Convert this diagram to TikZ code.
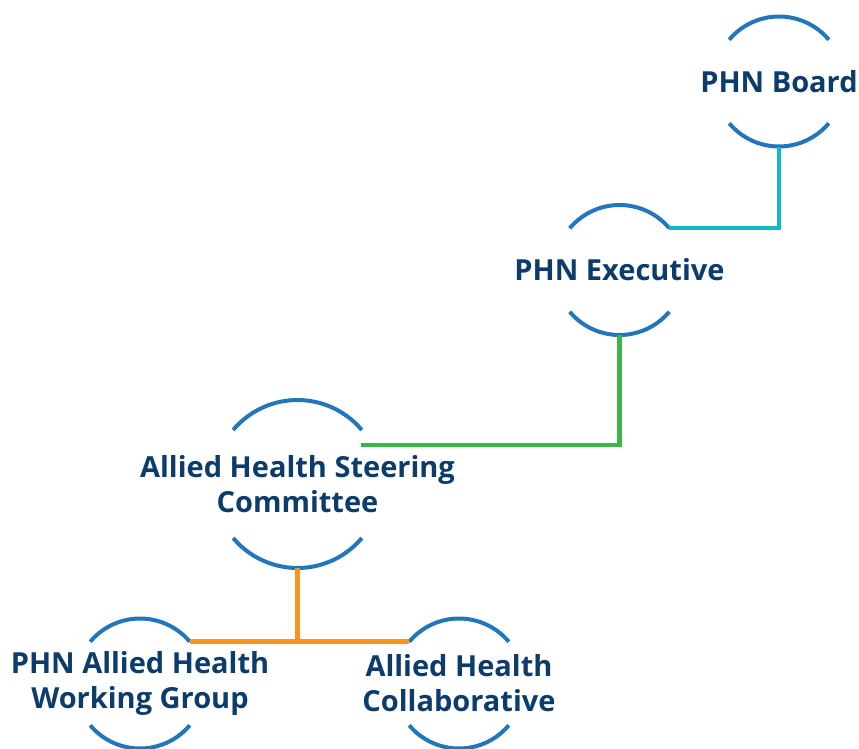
\documentclass[tikz,border=0pt]{standalone}
\usepackage{fontspec}
\setmainfont{Open Sans}
\definecolor{ringblue}{HTML}{2176BC}
\definecolor{navy}{HTML}{0B3C6B}
\definecolor{tealline}{HTML}{13B8C8}
\definecolor{greenline}{HTML}{3BB44A}
\definecolor{orangeline}{HTML}{F7941D}
\begin{document}
\begin{tikzpicture}[x=1pt,y=1pt,
  ring/.style={circle,draw=none,inner sep=0pt,outer sep=0pt,minimum size=#1},
  caption/.style={font=\bfseries\fontsize{29}{35}\selectfont,text=navy,align=center,inner sep=0pt},
  arcline/.style={draw=ringblue,line width=4pt},
  link/.style={line width=4.5pt}]
\useasboundingbox (0,0) rectangle (859,-749);

% circle frames (invisible) that carry the arcs
\node[ring=130pt] (board) at (779,-81.5) {};
\node[ring=130pt] (exec)  at (619.5,-270) {};
\node[ring=168pt] (steer) at (297.5,-484) {};
\node[ring=130pt] (wg)    at (140,-683.5) {};
\node[ring=130pt] (collab) at (459,-683.5) {};

% upper and lower arcs of each ring
\foreach \n/\r in {board/65pt,exec/65pt,steer/84pt,wg/65pt,collab/65pt}{
  \draw[arcline] (\n.40) arc[start angle=40,end angle=140,radius=\r];
  \draw[arcline] (\n.220) arc[start angle=220,end angle=320,radius=\r];
}

% labels
\node[caption] (boardtext)  at (board)  {PHN Board};
\node[caption] (exectext)   at (exec)   {PHN Executive};
\node[caption] (steertext)  at (steer)  {Allied Health Steering\\Committee};
\node[caption] (wgtext)     at (wg)     {PHN Allied Health\\Working Group};
\node[caption] (collabtext) at (collab) {Allied Health\\Collaborative};

% connectors
\draw[link,tealline] (board.south) |- (exec.40);
\coordinate (steerjoin) at (361,-445);
\draw[link,greenline] (exec.south) |- (steerjoin);
\draw[link,orangeline] (steer.south) -- (steer.south |- wg.40);
\draw[link,orangeline] (wg.40) -- (collab.140);
\end{tikzpicture}
\end{document}
